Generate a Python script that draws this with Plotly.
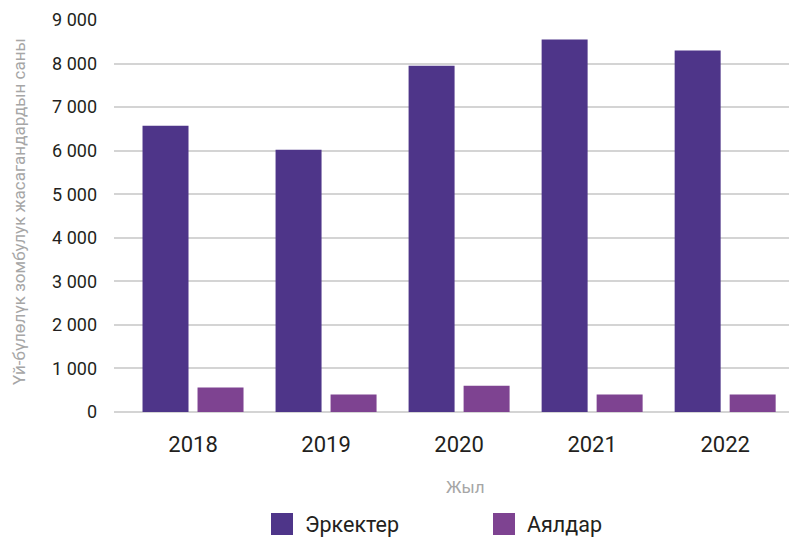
import plotly.graph_objects as go

years = ["2018", "2019", "2020", "2021", "2022"]
men = [6570, 6020, 7950, 8550, 8300]
women = [560, 400, 600, 400, 400]
series_names = ["Эркектер", "Аялдар"]
y_title = "Үй-бүлөлүк зомбулук жасагандардын саны"
x_title = "Жыл"
y_ticks = [0, 1000, 2000, 3000, 4000, 5000, 6000, 7000, 8000, 9000]

c_men = "#4e3589"
c_women = "#7e4391"
font = "Roboto"

fig = go.Figure()
fig.add_trace(go.Bar(x=list(range(len(years))), y=men, name=series_names[0],
                     marker=dict(color=c_men, line=dict(width=0)), showlegend=False))
fig.add_trace(go.Bar(x=list(range(len(years))), y=women, name=series_names[1],
                     marker=dict(color=c_women, line=dict(width=0)), showlegend=False))

# page body has an 8px margin; target pixel coords are shifted by OFF
OFF = 8
W, H = 797 - OFF, 540 - OFF
L, R, T, B = 114 - OFF, 0, 20 - OFF, 128

fig.update_layout(
    width=W, height=H,
    margin=dict(l=L, r=R, t=T, b=B),
    paper_bgcolor="white", plot_bgcolor="white",
    barmode="group", bargap=0.173, bargroupgap=0.164,
    separators=". ",
    font=dict(family=font, color="#231f20"),
    xaxis=dict(
        tickmode="array", tickvals=list(range(len(years))), ticktext=years,
        range=[-0.594, 4.54], showgrid=False, zeroline=False, showline=False,
        ticks="", tickfont=dict(size=22, color="#231f20", family=font),
        ticklabelstandoff=17,
    ),
    yaxis=dict(
        range=[0, 9000], tickvals=y_ticks, tickformat=",d",
        showgrid=True, gridcolor="#d4d4d4", gridwidth=2,
        zeroline=True, zerolinecolor="#d4d4d4", zerolinewidth=2,
        showline=False, ticks="", ticklabelstandoff=16,
        tickfont=dict(size=18, color="#231f20", family=font),
    ),
    showlegend=False,
)

pw, ph = W - L - R, H - T - B
def px(xp):
    return (xp - OFF - L) / pw
def py(yp):
    return (H - B - (yp - OFF)) / ph

annotations = [
    dict(text=y_title, textangle=-90, xref="paper", yref="paper",
         x=px(19), y=py(212), xanchor="center", yanchor="middle",
         showarrow=False, font=dict(size=17, color="#a6a6a6", family=font)),
    dict(text=x_title, xref="paper", yref="paper", x=px(465), y=py(487),
         xanchor="center", yanchor="middle", showarrow=False,
         font=dict(size=17, color="#a6a6a6", family=font)),
]
shapes = []
legend_items = [(271, series_names[0], c_men), (493, series_names[1], c_women)]
for x0, name, col in legend_items:
    shapes.append(dict(type="rect", xref="paper", yref="paper",
                       x0=px(x0), x1=px(x0 + 22), y0=py(535), y1=py(513),
                       fillcolor=col, line=dict(width=0)))
    annotations.append(dict(text=name, xref="paper", yref="paper",
                            x=px(x0 + 32), y=py(524), xanchor="left", yanchor="middle",
                            showarrow=False, font=dict(size=21.5, color="#231f20", family=font)))
fig.update_layout(annotations=annotations, shapes=shapes)

fig.write_html("out.html")
